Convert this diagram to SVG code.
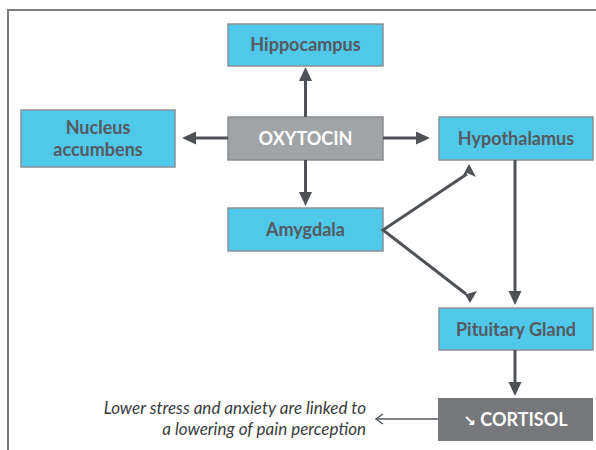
<svg xmlns="http://www.w3.org/2000/svg" width="596" height="450" viewBox="0 0 596 450">
<style>
.box{fill:#4fc8e9;stroke:#8a9196;stroke-width:1.5}
.lbl{font-family:Lato,"Open Sans","DejaVu Sans",sans-serif;font-weight:bold;font-size:18px;fill:#555a60;text-anchor:middle}
.wlbl{font-family:Lato,"Open Sans","DejaVu Sans",sans-serif;font-weight:bold;font-size:18px;fill:#ffffff;text-anchor:middle}
.conn{stroke:#4e5257;stroke-width:3;fill:none}
.head{fill:#4e5257}
.note{font-family:Lato,"Open Sans","DejaVu Sans",sans-serif;font-style:italic;font-size:17px;fill:#3a3d40;text-anchor:end}
</style>
<rect width="596" height="450" fill="#ffffff"/>
<path d="M8,450 V10 H596" fill="none" stroke="#7a7c7e" stroke-width="2"/>

<g id="hippocampus"><rect class="box" x="228" y="24" width="155" height="42"/><text class="lbl" x="305.5" y="51">Hippocampus</text></g>
<g id="nucleus-accumbens"><rect class="box" x="21" y="110" width="154" height="57"/><text class="lbl" x="98" y="134">Nucleus</text><text class="lbl" x="98" y="156">accumbens</text></g>
<g id="oxytocin"><rect x="228" y="117" width="155" height="43" fill="#a1a4a7" stroke="#8a8d90" stroke-width="1.5"/><text class="wlbl" x="305.5" y="144.5">OXYTOCIN</text></g>
<g id="hypothalamus"><rect class="box" x="439" y="117" width="154" height="43"/><text class="lbl" x="516" y="144.5">Hypothalamus</text></g>
<g id="amygdala"><rect class="box" x="228" y="208" width="155" height="43"/><text class="lbl" x="305.5" y="235.5">Amygdala</text></g>
<g id="pituitary-gland"><rect class="box" x="439" y="308" width="154" height="42"/><text class="lbl" x="516" y="335.5">Pituitary Gland</text></g>
<g id="cortisol"><rect x="438" y="398" width="155" height="43" fill="#77787b"/><text class="wlbl" x="515.5" y="425.5"><tspan font-family="'DejaVu Sans',sans-serif" font-size="15">↘</tspan> CORTISOL</text></g>
<g id="note"><text class="note" x="366" y="414">Lower stress and anxiety are linked to</text><text class="note" x="366" y="435">a lowering of pain perception</text></g>

<g id="connectors">
<line class="conn" x1="305.5" y1="117" x2="305.5" y2="80"/><polygon class="head" points="305.5,67 299,81 312,81"/>
<line class="conn" x1="228" y1="138" x2="194" y2="138"/><polygon class="head" points="182,138 196,131.5 196,144.5"/>
<line class="conn" x1="383" y1="138" x2="418" y2="138"/><polygon class="head" points="430,138 416,131.5 416,144.5"/>
<line class="conn" x1="305.5" y1="160" x2="305.5" y2="194"/><polygon class="head" points="305.5,206 299,192 312,192"/>
<polyline class="conn" points="467,174 383,230 466,294"/>
<polygon class="head" points="469,164 476,177 467,173 462,177"/>
<polygon class="head" points="470,303 463,291 467,294 477,291"/>
<line class="conn" x1="515" y1="160" x2="515" y2="293"/><polygon class="head" points="515,305 508.5,291 521.5,291"/>
<line class="conn" x1="515" y1="350" x2="515" y2="384"/><polygon class="head" points="515,396 508.5,382 521.5,382"/>
<line x1="438" y1="419" x2="377" y2="419" stroke="#55585c" stroke-width="1.5"/><polyline points="383,414 376,419 383,424" fill="none" stroke="#55585c" stroke-width="1.5"/>
</g>
</svg>
